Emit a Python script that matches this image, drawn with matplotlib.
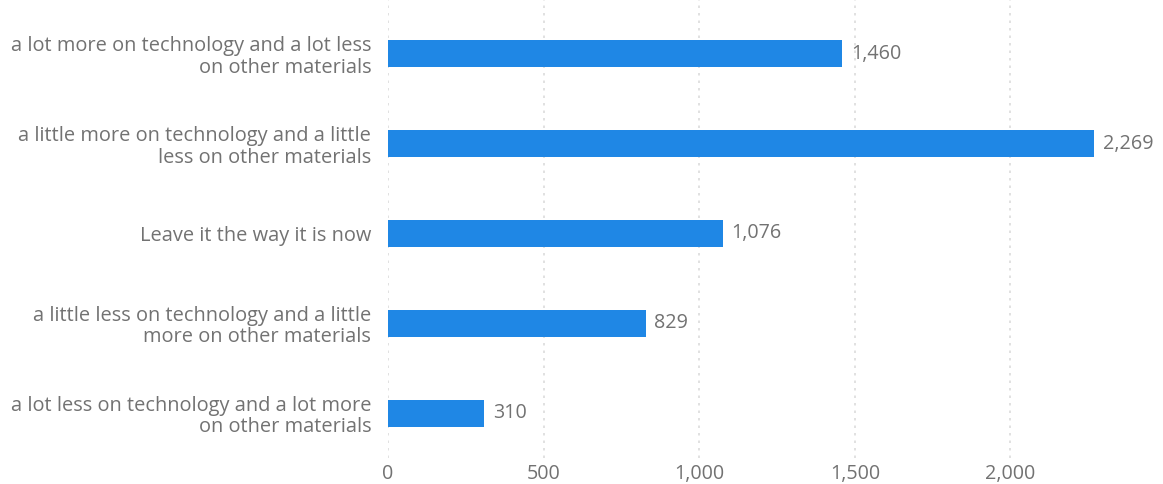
import matplotlib.pyplot as plt
from matplotlib.ticker import FuncFormatter

answers = [
    "a lot more on technology and a lot less\non other materials",
    "a little more on technology and a little\nless on other materials",
    "Leave it the way it is now",
    "a little less on technology and a little\nmore on other materials",
    "a lot less on technology and a lot more\non other materials",
]
counts = [1460, 2269, 1076, 829, 310]
xticks = [0, 500, 1000, 1500, 2000]

bar_color = "#1f87e5"
text_color = "#727272"

plt.rcParams["font.family"] = ["Open Sans", "DejaVu Sans"]

fig = plt.figure(figsize=(11.63, 4.84), dpi=100)
ax = fig.add_axes([388 / 1163, 26 / 484, 775 / 1163, 458 / 484])

pos = list(range(len(answers)))
ax.barh(pos, counts, height=0.30, color=bar_color, zorder=3)

for y, v in zip(pos, counts):
    ax.annotate(f"{v:,}", (v, y), xytext=(6, 0), textcoords="offset points",
                va="center", ha="left", fontsize=14.2, color=text_color)

ax.set_xlim(0, 2490)
ax.set_ylim(4.5, -0.6)
ax.set_yticks(pos)
ax.set_yticklabels(answers, fontsize=14.4, color=text_color, linespacing=1.1)
ax.set_xticks(xticks)
ax.xaxis.set_major_formatter(FuncFormatter(lambda v, p: f"{int(v):,}"))
ax.tick_params(axis="x", length=0, labelsize=14.2, labelcolor=text_color, pad=4)
ax.tick_params(axis="y", length=0, pad=12)

ax.grid(axis="x", color="#dcdcdc", linestyle=(0, (1.5, 3)), linewidth=1.2, zorder=0)
for s in ax.spines.values():
    s.set_visible(False)

fig.savefig("out.png", dpi=100)
